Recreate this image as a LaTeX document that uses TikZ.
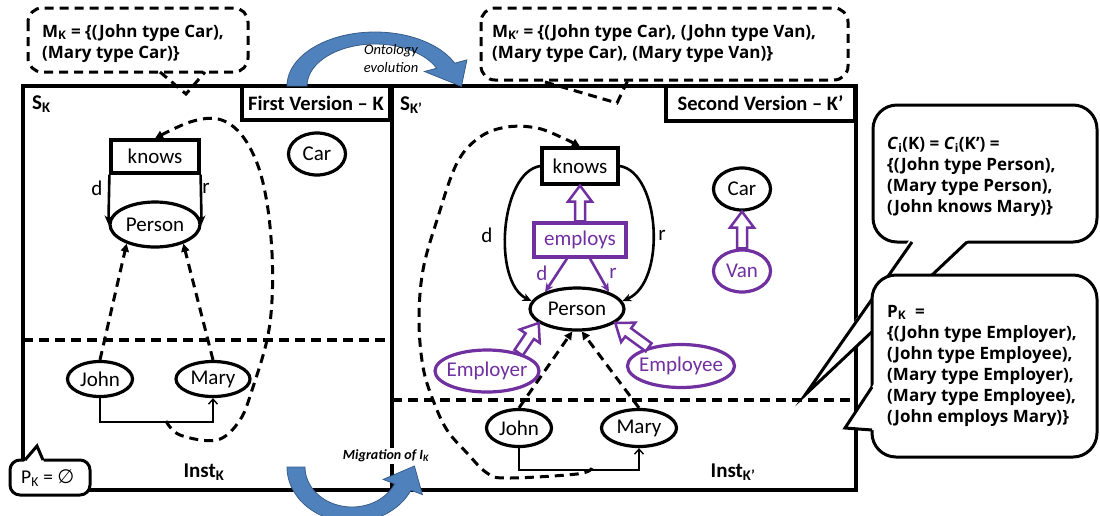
\documentclass[tikz,border=0pt]{standalone}
\usepackage{fontspec}
\setmainfont{Carlito}
\newfontfamily\calloutfont{Open Sans}
\newfontfamily\symfont{DejaVu Sans}
\usetikzlibrary{shapes.geometric,arrows.meta,calc}

\definecolor{vio}{RGB}{112,48,160}
\definecolor{arrowblue}{RGB}{79,129,189}
\definecolor{arrowedge}{RGB}{56,93,138}

\tikzset{
  lbl/.style={inner sep=0pt, font=\fontsize{21}{25}\selectfont},
  boldlbl/.style={inner sep=0pt, font=\bfseries\fontsize{21}{25}\selectfont},
  rbox/.style={rectangle, draw, line width=3.2pt, fill=white, inner sep=0pt,
    font=\fontsize{21}{25}\selectfont},
  oval/.style={ellipse, draw, line width=3.2pt, fill=white, inner sep=0pt,
    font=\fontsize{21}{25}\selectfont},
  purp/.style={draw=vio, text=vio},
  panelframe/.style={draw, line width=3.2pt},
  divider/.style={line width=3.2pt, dash pattern=on 10pt off 6pt},
  dasharrow/.style={line width=3pt, dash pattern=on 9pt off 6pt,
    -{Triangle[length=8pt,width=8pt]}},
  dashloop/.style={line width=3pt, dash pattern=on 9pt off 6pt,
    -{Triangle[length=8pt,width=8pt]}},
  solidarrow/.style={line width=2.6pt, -{Stealth[length=9pt,width=8pt]}},
  thinarrow/.style={line width=1.4pt, -{Straight Barb[length=5pt,width=9pt]}},
  hollow/.style={draw=vio, line width=2.5pt, fill=white, line join=miter},
  bubble/.style={draw, line width=3pt, fill=white, rounded corners=24pt},
  dbubble/.style={draw, line width=3pt, dash pattern=on 9pt off 6pt, rounded corners=14pt},
  dtail/.style={line width=3pt, dash pattern=on 9pt off 6pt},
  solidtail/.style={line width=3pt, line join=miter},
  ctext/.style={inner sep=0pt, anchor=north west, align=left,
    font=\calloutfont\bfseries\fontsize{17}{21}\selectfont},
  bluearrow/.style={fill=arrowblue, draw=arrowedge, line width=0.8pt},
}

% hollow block arrow from #1 to #2 (shaft and head outlined)
\newcommand\hollowarrow[2]{%
  \draw[hollow]
    ($(#1)!5pt!90:(#2)$)
    -- ($($(#2)!16pt!(#1)$)!5pt!90:(#2)$)
    -- ($($(#2)!16pt!(#1)$)!12pt!90:(#2)$)
    -- (#2)
    -- ($($(#2)!16pt!(#1)$)!12pt!-90:(#2)$)
    -- ($($(#2)!16pt!(#1)$)!5pt!-90:(#2)$)
    -- ($(#1)!5pt!-90:(#2)$) -- cycle;}

\begin{document}
\begin{tikzpicture}[x=1pt,y=-1pt]
\useasboundingbox (0,0) rectangle (1100,515);
\clip (0,0) rectangle (1100,515);

% ---------- the two ontology versions ----------
\draw[panelframe] (23,86) rectangle (392,490);
\draw[panelframe] (392,86) rectangle (856,490);
\draw[divider] (23,340) -- (392,340);
\draw[divider] (392,400) -- (856,400);

\node[rbox, font=\bfseries\fontsize{20.5}{24}\selectfont, minimum width=148pt, minimum height=34pt] (v1) at (316,103) {First Version – K};
\node[rbox, font=\bfseries\fontsize{20.5}{24}\selectfont, minimum width=189pt, minimum height=35pt] (v2) at (760.5,103.5) {Second Version – K’};

\node[boldlbl, anchor=west] (sk) at (32,104) {S\textsubscript{K}};
\node[boldlbl, anchor=west] (skp) at (400,105) {S\textsubscript{K’}};
\node[boldlbl] (instL) at (204,472) {Inst\textsubscript{K}};
\node[boldlbl] (instR) at (733,472) {Inst\textsubscript{K’}};

% ---------- first version ----------
\node[rbox, minimum width=88pt, minimum height=33pt] (knowsL) at (155,156.5) {knows};
\node[oval, minimum width=90pt, minimum height=45pt] (personL) at (155,224.5) {\makebox[0pt]{Person}};
\node[oval, minimum width=57pt, minimum height=42pt] (carL) at (317,154) {\makebox[0pt]{Car}};
\node[oval, minimum width=65pt, minimum height=35pt] (johnL) at (100,379) {\makebox[0pt]{John}};
\node[oval, minimum width=74pt, minimum height=35pt] (maryL) at (213,379) {\makebox[0pt]{Mary}};

\draw[solidarrow] (knowsL.south west) -- (personL.west);
\draw[solidarrow] (knowsL.south east) -- (personL.east);
\node[lbl] (dL) at (97,188) {d};
\node[lbl] (rL) at (206,188) {r};

\draw[dasharrow] (johnL.north) -- (personL.214);
\draw[dasharrow] (maryL.north) -- (personL.326);
\draw[thinarrow] (johnL.south) |- ($(maryL.south)+(0,24)$) -- (maryL.south);

\coordinate (loopL) at (166,421);
\draw[dashloop] plot[smooth, tension=0.6] coordinates {(loopL) (180,435) (217,440) (240,420) (253,387) (267,340) (272,300) (272,253) (267,203) (257,163) (240,133) (218,119) (190,122) (knowsL.north)};

% ---------- second version ----------
\node[rbox, minimum width=76pt, minimum height=36pt] (knowsR) at (580,166) {knows};
\node[rbox, purp, minimum width=92pt, minimum height=34pt] (employs) at (580,240) {employs};
\node[oval, minimum width=57pt, minimum height=42pt] (carR) at (742,189) {\makebox[0pt]{Car}};
\node[oval, purp, minimum width=57pt, minimum height=42pt] (van) at (742,271) {\makebox[0pt]{Van}};
\node[oval, minimum width=94pt, minimum height=42pt] (personR) at (577,309) {\makebox[0pt]{Person}};
\node[oval, purp, minimum width=104pt, minimum height=42pt] (employer) at (487,371) {\makebox[0pt]{Employer}};
\node[oval, purp, minimum width=107pt, minimum height=43pt] (employee) at (681,366) {\makebox[0pt]{Employee}};
\node[oval, minimum width=65pt, minimum height=37pt] (johnR) at (519,428) {\makebox[0pt]{John}};
\node[oval, minimum width=75pt, minimum height=37pt] (maryR) at (639,428) {\makebox[0pt]{Mary}};

\draw[solidarrow] (knowsR.west) .. controls (500,172) and (492,282) .. (personR.170);
\draw[solidarrow] (knowsR.east) .. controls (660,172) and (667,282) .. (personR.10);
\node[lbl] (dR) at (487,235) {d};
\node[lbl] (rR) at (662,235) {r};

\draw[solidarrow, vio] ($(employs.south)+(-13,0)$) -- (personR.152);
\draw[solidarrow, vio] ($(employs.south)+(10,0)$) -- (personR.28);
\node[lbl, text=vio] (dE) at (542,273) {d};
\node[lbl, text=vio] (rE) at (613,273) {r};

\hollowarrow{employs.north}{knowsR.south}
\hollowarrow{van.north}{carR.south}
\hollowarrow{employer.30}{personR.200}
\hollowarrow{employee.150}{personR.340}

\draw[dasharrow] (johnR.north) -- (personR.258);
\draw[dasharrow] (maryR.north) -- (personR.282);
\draw[thinarrow] (johnR.south) |- ($(maryR.south)+(0,22)$) -- (maryR.south);

\coordinate (loopR) at (592,468);
\draw[dashloop] plot[smooth, tension=0.6] coordinates {(loopR) (577,474) (507,478) (487,473) (467,453) (447,430) (433,400) (423,367) (419,320) (423,270) (437,220) (457,163) (480,137) (507,127) (537,128) (563,138) (knowsR.north)};

% ---------- dashed callouts on top ----------
\draw[dbubble] (28,8) rectangle (248,72);
\draw[dtail] (160,72) -- (186,94) -- (205,72);
\node[ctext] (mk) at (42,24) {M\textsubscript{K} = \{(John type Car),\\(Mary type Car)\}};

\draw[dbubble] (481,8) rectangle (848,80);
\draw[dtail] (545,82) -- (617,103) -- (628,80);
\node[ctext] (mkp) at (492,24) {M\textsubscript{K’} = \{(John type Car), (John type Van),\\(Mary type Car), (Mary type Van)\}};

% ---------- speech bubbles on the right ----------
\draw[bubble] (873,105) rectangle (1097,242);
\fill[white] (910,239) -- (805,395) -- (969,239) -- cycle;
\draw[solidtail] (912,242) -- (805,395) -- (967,242);
\node[ctext] (ci) at (887,137) {\textit{C}\textsubscript{i}(K) = \textit{C}\textsubscript{i}(K’) =\\\{(John type Person),\\(Mary type Person),\\(John knows Mary)\}};

\draw[bubble] (872,275) rectangle (1097,457);
\fill[white] (876,381) -- (845,428) -- (876,430.3) -- cycle;
\draw[solidtail] (872,387) -- (845,428) -- (872,430);
\node[ctext] (pk) at (887,305) {P\textsubscript{K}\ \ =\\\{(John type Employer),\\(John type Employee),\\(Mary type Employer),\\(Mary type Employee),\\(John employs Mary)\}};

% ---------- empty P_K bubble ----------
\draw[bubble, rounded corners=10pt] (10,460) rectangle (90,495);
\fill[white] (24,462) -- (37,446) -- (44,462) -- cycle;
\draw[solidtail] (25,460) -- (37,446) -- (43,460);
\node[lbl, anchor=west, font=\fontsize{19.5}{22}\selectfont] (pk0) at (21,478) {P\textsubscript{K} = {\symfont ∅}};

% ---------- curved block arrows ----------
\path[bluearrow]
  plot[domain=180:335, samples=50] ({375+88*cos(\x)},{86+54*sin(\x)})
  -- (466.9,59.9) -- (461.4,86.4) -- (424.5,71.5)
  -- plot[domain=335:180, samples=50] ({375+68*cos(\x)},{86+42*sin(\x)}) -- cycle;
\node[align=center, inner sep=0pt, font=\itshape\fontsize{14.5}{18}\selectfont] (onto) at (391,59) {Ontology\\evolution};

\node[fill=white, inner sep=2pt, font=\bfseries\itshape\fontsize{14}{16}\selectfont] (migr) at (386,456) {Migration of I\textsubscript{K}};
\path[bluearrow]
  plot[domain=180:25, samples=50] ({352+65*cos(\x)},{467+55*sin(\x)})
  -- (422.4,494.6) -- (414.4,466) -- (383.2,479.4)
  -- plot[domain=25:180, samples=50] ({352+47*cos(\x)},{467+40*sin(\x)}) -- cycle;
\end{tikzpicture}
\end{document}
